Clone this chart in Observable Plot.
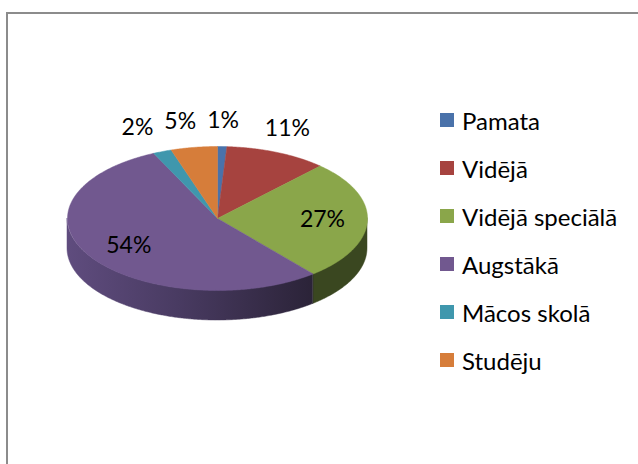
<!DOCTYPE html>
<html><head><meta charset="utf-8">
<script src="https://cdn.jsdelivr.net/npm/d3@7"></script>
<script src="https://cdn.jsdelivr.net/npm/@observablehq/plot@0.6"></script>
<style>
body{margin:0;background:#fff;font-family:Lato,"Open Sans",sans-serif;}
#wrap{position:relative;width:638px;height:464px;overflow:hidden;background:#fff;}
#chart{position:absolute;left:0;top:0;}
#frame{position:absolute;left:6px;top:12px;width:700px;height:520px;border:2px solid #8c8c8c;box-sizing:border-box;}
#legend{position:absolute;left:440px;top:96px;}
.item{display:flex;align-items:center;height:48px;font-size:24px;color:#000;white-space:nowrap;}
.sw{width:14px;height:14px;margin-right:8px;flex:none;}
</style></head>
<body><div id="wrap"><div id="chart"></div><div id="legend"></div><div id="frame"></div></div>
<script>
const categories = ["Pamata", "Vidējā", "Vidējā speciālā", "Augstākā", "Mācos skolā", "Studēju"];
const values = [1, 11, 27, 54, 2, 5];
const labels = ["1%", "11%", "27%", "54%", "2%", "5%"];
const topColors = ["#4a72aa", "#a6433f", "#8aa64a", "#71588f", "#3f97ad", "#d67d3a"];
const sideColors = ["#2a4066", "#5e2624", "#3a4720", "url(#gPurple)", "#24596a", "#7f4a22"];

// layout of the pie (pixels)
const cx = 217, cy = 218, rx = 150, ry = 72, depthPx = 30;
const depth = depthPx / ry;

const arcs = d3.pie().sort(null).value(d => d)(values);
const step = Math.PI / 360;
function sample(a0, a1) {
  const n = Math.max(2, Math.ceil((a1 - a0) / step));
  return d3.range(n + 1).map(i => a0 + (a1 - a0) * i / n);
}

const marks = [];
marks.push(() => {
  const defs = d3.create("svg:defs");
  const g = defs.append("linearGradient").attr("id", "gPurple").attr("x1", "0").attr("x2", "1").attr("y1", "0").attr("y2", "0");
  g.append("stop").attr("offset", "0%").attr("stop-color", "#5f4c7e");
  g.append("stop").attr("offset", "45%").attr("stop-color", "#493b62");
  g.append("stop").attr("offset", "100%").attr("stop-color", "#2b2338");
  return defs.node();
});

// side walls (front half only)
arcs.forEach((a, i) => {
  const s = Math.max(a.startAngle, Math.PI / 2), e = Math.min(a.endAngle, 3 * Math.PI / 2);
  if (e <= s) return;
  const pts = sample(s, e).map(t => ({x: Math.sin(t), y1: Math.cos(t), y2: Math.cos(t) - depth}));
  marks.push(Plot.area(pts, {x1: "x", y1: "y1", y2: "y2", fill: sideColors[i], stroke: sideColors[i], strokeWidth: 0.5}));
});

// top slices
arcs.forEach((a, i) => {
  const pts = [{x: 0, y: 0}, ...sample(a.startAngle, a.endAngle).map(t => ({x: Math.sin(t), y: Math.cos(t)})), {x: 0, y: 0}];
  marks.push(Plot.line(pts, {x: "x", y: "y", fill: topColors[i], stroke: topColors[i], strokeWidth: 0.5}));
});

// labels
const labelFont = 23;
const ctx = document.createElement("canvas").getContext("2d");
ctx.font = labelFont + "px Lato";
const lab = arcs.map((a, i) => {
  const t = (a.startAngle + a.endAngle) / 2;
  const inside = values[i] >= 15;
  let px, py;
  if (inside) {
    px = cx + rx * 0.7 * Math.sin(t);
    py = cy - ry * 0.7 * Math.cos(t);
  } else {
    px = cx + rx * Math.sin(t) + 26 * Math.sin(t);
    py = cy - ry * Math.cos(t) - 26 * Math.cos(t);
  }
  return {text: labels[i], px, py, inside, w: ctx.measureText(labels[i]).width};
});
const outs = lab.filter(d => !d.inside).sort((a, b) => b.px - a.px);
const gap = 11;
for (let k = 1; k < outs.length; k++) {
  const prev = outs[k - 1], cur = outs[k];
  const lim = prev.px - prev.w / 2 - gap - cur.w / 2;
  if (cur.px > lim && Math.abs(cur.py - prev.py) < 24) cur.px = lim;
}
const labData = lab.map(d => ({text: d.text, x: (d.px - cx) / rx, y: (cy - d.py) / ry}));
marks.push(Plot.text(labData, {x: "x", y: "y", text: "text", fontSize: labelFont, fontFamily: "Lato", fill: "#000", textAnchor: "middle", lineAnchor: "middle"}));

const plot = Plot.plot({
  width: 638, height: 464,
  marginTop: 0, marginRight: 0, marginBottom: 0, marginLeft: 0,
  style: {background: "transparent"},
  x: {axis: null, domain: [-1, 1], range: [cx - rx, cx + rx]},
  y: {axis: null, domain: [-1, 1], range: [cy + ry, cy - ry]},
  marks
});
document.getElementById("chart").appendChild(plot);

const legend = document.getElementById("legend");
categories.forEach((c, i) => {
  const row = document.createElement("div");
  row.className = "item";
  const sw = document.createElement("span");
  sw.className = "sw";
  sw.style.background = topColors[i];
  const tx = document.createElement("span");
  tx.textContent = c;
  row.appendChild(sw); row.appendChild(tx);
  legend.appendChild(row);
});
</script>
</body></html>
